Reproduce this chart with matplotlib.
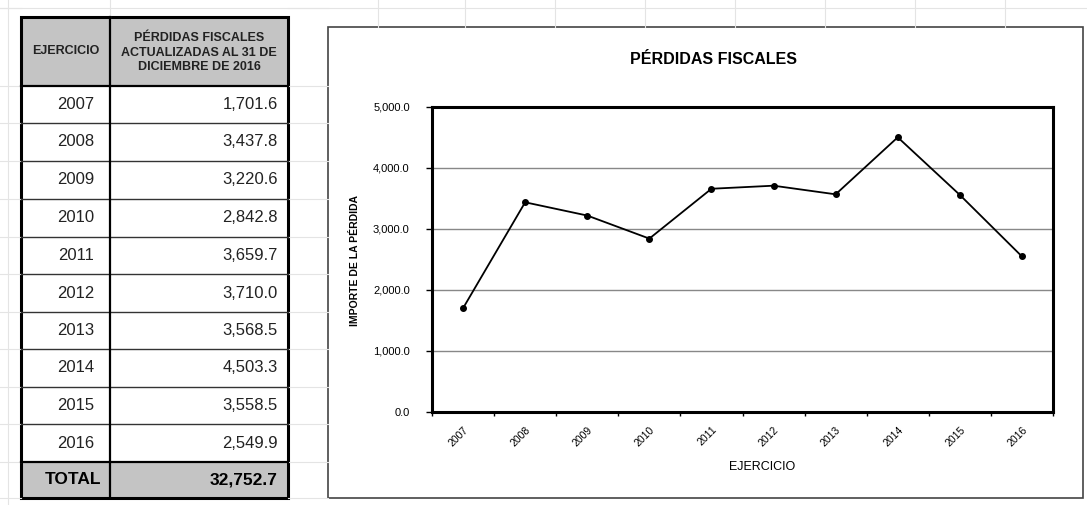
import matplotlib.pyplot as plt
from matplotlib.patches import Rectangle

years = ["2007", "2008", "2009", "2010", "2011", "2012", "2013", "2014", "2015", "2016"]
perdidas = [1701.6, 3437.8, 3220.6, 2842.8, 3659.7, 3710.0, 3568.5, 4503.3, 3558.5, 2549.9]
total = sum(perdidas)

col1_head = "EJERCICIO"
col2_head = "PÉRDIDAS FISCALES\nACTUALIZADAS AL 31 DE\nDICIEMBRE DE 2016"
y_ticks = [0, 1000, 2000, 3000, 4000, 5000]

W, H = 1087, 505
fig = plt.figure(figsize=(W / 100, H / 100), dpi=100)
fig.patch.set_facecolor("white")

# background layer in pixel coordinates (spreadsheet + table + chart frame)
bg = fig.add_axes([0, 0, 1, 1])
bg.set_xlim(0, W)
bg.set_ylim(H, 0)
bg.axis("off")

# faint spreadsheet gridlines
faint = "#e4e4e4"
for y in [8, 86, 123, 161, 199, 237, 274, 312, 349, 387, 424, 462, 498]:
    bg.plot([0, 21], [y, y], color=faint, lw=0.8)
    bg.plot([288, 328], [y, y], color=faint, lw=0.8)
bg.plot([0, W], [8, 8], color=faint, lw=0.8)
for x in [110, 378, 465, 555, 645, 735, 825, 915, 1005]:
    bg.plot([x, x], [0, 27], color=faint, lw=0.8)
bg.plot([8, 8], [0, H], color=faint, lw=0.8)

# table
left, mid, right = 21, 110, 288
top, head_bot = 17, 86
rows = [86, 123, 161, 199, 237, 274, 312, 349, 387, 424, 462, 498]
gray = "#c4c4c4"

bg.add_patch(Rectangle((left, top), right - left, head_bot - top, facecolor=gray, edgecolor="none"))
bg.add_patch(Rectangle((left, rows[-2]), right - left, rows[-1] - rows[-2], facecolor=gray, edgecolor="none"))
for y in rows[1:-2]:
    bg.plot([left, right], [y, y], color="#333333", lw=1.0)
bg.plot([left, right], [head_bot, head_bot], color="black", lw=1.6)
bg.plot([left, right], [rows[-2], rows[-2]], color="black", lw=1.6)
bg.plot([mid, mid], [top, rows[-1]], color="black", lw=1.6)
bg.add_patch(Rectangle((left, top), right - left, rows[-1] - top, facecolor="none", edgecolor="black", lw=2.2))

hfont = ["Liberation Sans Narrow", "Liberation Sans", "DejaVu Sans"]
bg.text((left + mid) / 2, (top + head_bot) / 2, col1_head, ha="center", va="center",
        fontsize=9.0, fontweight="bold", family=hfont, color="#222222")
bg.text((mid + right) / 2, (top + head_bot) / 2 + 1, col2_head, ha="center", va="center",
        fontsize=9.0, fontweight="bold", family=hfont, color="#222222", linespacing=1.3)

for i, (yr, v) in enumerate(zip(years, perdidas)):
    yc = (rows[i] + rows[i + 1]) / 2
    bg.text(94, yc, yr, ha="right", va="center", fontsize=12, family="Liberation Sans", color="#222222")
    bg.text(278, yc, f"{v:,.1f}", ha="right", va="center", fontsize=12, family="Liberation Sans", color="#222222")
yc = (rows[-2] + rows[-1]) / 2
bg.text(101, yc, "TOTAL", ha="right", va="center", fontsize=12.5, fontweight="bold", family="Liberation Sans")
bg.text(278, yc, f"{total:,.1f}", ha="right", va="center", fontsize=12.5, fontweight="bold", family="Liberation Sans")

# chart frame
bg.add_patch(Rectangle((328, 27), 1083 - 328, 498 - 27, facecolor="white", edgecolor="#444444", lw=1.2))
bg.text(713, 60, "PÉRDIDAS FISCALES", ha="center", va="center", fontsize=11.5,
        fontweight="bold", family="Liberation Sans")
bg.text(355, 260, "IMPORTE DE LA PÉRDIDA", ha="center", va="center", rotation=90,
        fontsize=7.5, fontweight="bold", family="Liberation Sans")
bg.text(762, 467, "EJERCICIO", ha="center", va="center", fontsize=9, family="Liberation Sans")

# chart
ax = fig.add_axes([432 / W, 1 - 412 / H, (1053 - 432) / W, (412 - 107) / H])
x = list(range(len(years)))
ax.plot(x, perdidas, color="black", lw=1.3, marker="o", markersize=4)
ax.set_xlim(-0.5, len(years) - 0.5)
ax.set_ylim(0, 5000)
ax.set_yticks(y_ticks)
ax.set_yticklabels([f"{t:,.1f}" for t in y_ticks], fontsize=8, family="Liberation Sans")
ax.yaxis.grid(True, color="#888888", lw=1.0)
ax.set_axisbelow(True)
ax.set_xticks(x)
ax.set_xticklabels(years, rotation=45, ha="right", rotation_mode="anchor", fontsize=7.5,
                   family="Liberation Sans")
ax.set_xticks([i - 0.5 for i in range(len(years) + 1)], minor=True)
ax.tick_params(axis="x", which="major", length=0, pad=9)
ax.tick_params(axis="x", which="minor", length=3, width=1)
ax.tick_params(axis="y", length=4, width=1, pad=12)
for s in ax.spines.values():
    s.set_linewidth(2.2)
    s.set_color("black")

fig.savefig("out.png", dpi=100)
